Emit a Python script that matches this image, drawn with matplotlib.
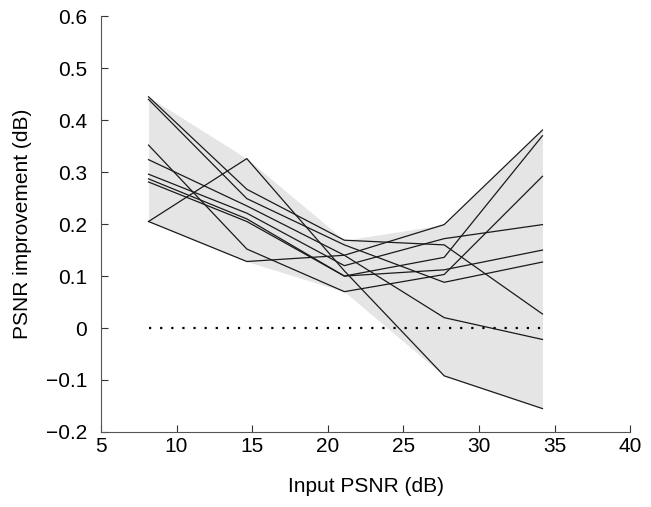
import numpy as np
import matplotlib.pyplot as plt

plt.rcParams['font.family'] = ['Liberation Sans', 'DejaVu Sans']

# input PSNR levels (dB)
input_psnr = [8.15, 14.65, 21.1, 27.7, 34.2]

# PSNR improvement curves, one per image
curve_1 = [0.445, 0.267, 0.169, 0.160, 0.027]
curve_2 = [0.440, 0.249, 0.160, 0.088, 0.127]
curve_3 = [0.352, 0.152, 0.070, 0.103, 0.292]
curve_4 = [0.324, 0.235, 0.140, 0.020, -0.022]
curve_5 = [0.296, 0.221, 0.120, 0.172, 0.199]
curve_6 = [0.287, 0.210, 0.100, 0.136, 0.370]
curve_7 = [0.281, 0.205, 0.100, 0.112, 0.150]
curve_8 = [0.205, 0.326, 0.110, -0.092, -0.155]
curve_9 = [0.205, 0.128, 0.140, 0.199, 0.381]

curves = [curve_1, curve_2, curve_3, curve_4, curve_5,
          curve_6, curve_7, curve_8, curve_9]

data = np.array(curves)
lo = data.min(axis=0)
hi = data.max(axis=0)

fig = plt.figure(figsize=(6.51, 5.07), dpi=100)
ax = fig.add_axes([0.155, 0.148, 0.813, 0.82])

ax.fill_between(input_psnr, lo, hi, color='#e5e5e5', linewidth=0)
for c in curves:
    ax.plot(input_psnr, c, color='#1a1a1a', linewidth=0.9)
ax.plot([input_psnr[0], input_psnr[-1]], [0, 0], color='black',
        linestyle=(0, (1, 4)), linewidth=1.6)

ax.set_xlim(5, 40)
ax.set_ylim(-0.2, 0.6)
ax.set_xticks([5, 10, 15, 20, 25, 30, 35, 40])
ax.set_yticks([-0.2, -0.1, 0, 0.1, 0.2, 0.3, 0.4, 0.5, 0.6])
ax.set_yticklabels(['\u22120.2', '\u22120.1', '0', '0.1', '0.2', '0.3', '0.4', '0.5', '0.6'])
ax.tick_params(direction='in', length=5, width=0.8, colors='#333333',
               labelsize=15, labelcolor='black')
ax.tick_params(axis='y', pad=10)
for s in ['top', 'right']:
    ax.spines[s].set_visible(False)
for s in ['left', 'bottom']:
    ax.spines[s].set_color('#555555')
    ax.spines[s].set_linewidth(0.8)

ax.set_xlabel('Input PSNR (dB)', fontsize=15, labelpad=15)
ax.set_ylabel('PSNR improvement (dB)', fontsize=15, labelpad=10)

fig.savefig('out.png', dpi=100)
